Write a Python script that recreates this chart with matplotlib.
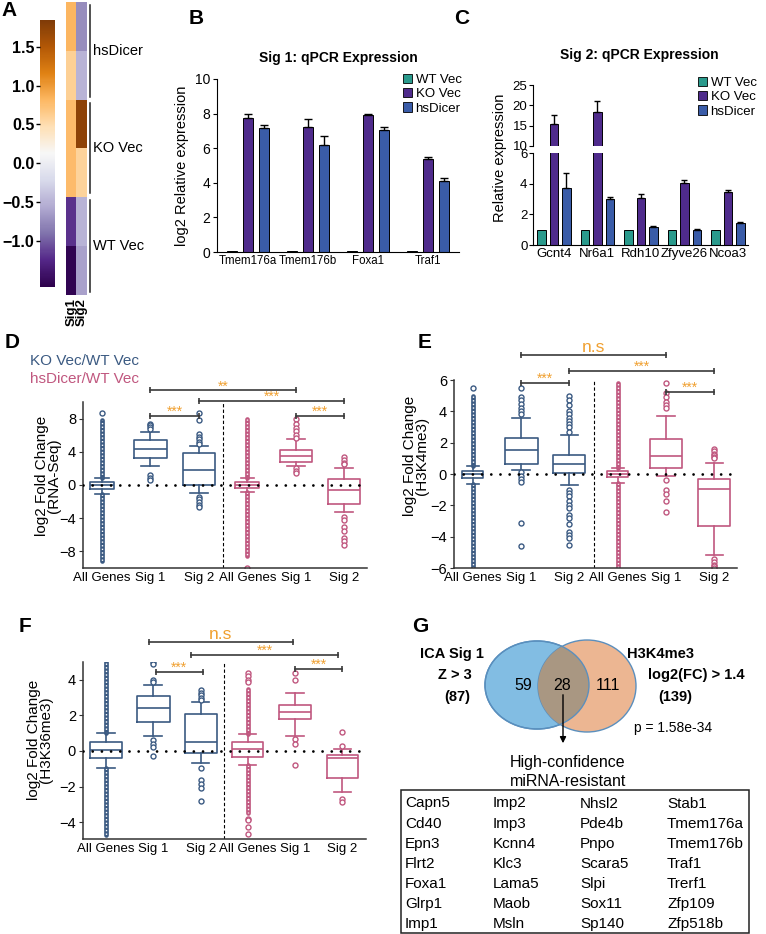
import matplotlib
matplotlib.use('Agg')
import matplotlib.pyplot as plt
import numpy as np
from matplotlib.patches import Ellipse, Rectangle, Patch

plt.rcParams['font.family'] = ['Liberation Sans', 'DejaVu Sans']

W, H = 766, 934
fig = plt.figure(figsize=(W / 100, H / 100), dpi=100)
fig.patch.set_facecolor('white')


def px(x0, y0, x1, y1):
    return [x0 / W, 1 - y1 / H, (x1 - x0) / W, (y1 - y0) / H]

# ---------------- data ----------------
# Panel A heatmap
heat_cols = ['Sig1', 'Sig2']
heat_groups = ['hsDicer', 'KO Vec', 'WT Vec']
heat_sig1 = [0.82, 0.60, 0.78, 0.78, -1.20, -1.55]
heat_sig2 = [-0.75, -0.50, 1.75, 0.57, -0.50, -0.62]
cbar_ticks = [-1.0, -0.5, 0.0, 0.5, 1.0, 1.5]

# Panel B
genes_b = ['Tmem176a', 'Tmem176b', 'Foxa1', 'Traf1']
b_wt = [0.06, 0.06, 0.06, 0.06]
b_ko = [7.75, 7.25, 7.90, 5.35]
b_ko_err = [0.25, 0.45, 0.10, 0.12]
b_hs = [7.15, 6.20, 7.05, 4.10]
b_hs_err = [0.20, 0.50, 0.15, 0.15]

# Panel C
genes_c = ['Gcnt4', 'Nr6a1', 'Rdh10', 'Zfyve26', 'Ncoa3']
c_wt = [1.0, 1.0, 1.0, 1.0, 1.0]
c_ko = [15.5, 18.3, 3.05, 4.05, 3.45]
c_ko_err = [2.0, 2.8, 0.30, 0.20, 0.12]
c_hs = [3.70, 3.00, 1.20, 1.00, 1.45]
c_hs_err = [1.00, 0.12, 0.05, 0.03, 0.05]

series_names = ['WT Vec', 'KO Vec', 'hsDicer']

# Box panels
box_labels = ['All Genes', 'Sig 1', 'Sig 2', 'All Genes', 'Sig 1', 'Sig 2']

d_med = [-0.05, 4.3, 1.8, 0.0, 3.5, -0.6]
d_q1 = [-0.5, 3.3, 0.0, -0.4, 2.8, -2.3]
d_q3 = [0.4, 5.4, 3.9, 0.4, 4.2, 0.7]
d_wlo = [-1.1, 2.3, -1.0, -0.9, 2.3, -3.3]
d_whi = [0.9, 6.4, 4.7, 0.9, 5.5, 2.1]
d_fliers = [[8.7],
            [7.4, 7.2, 7.0, 6.8, 1.2, 0.9, 0.6],
            [8.7, 7.8, 6.1, 5.8, 5.5, 5.2, 4.9, -1.4, -1.7, -2.0, -2.4, -2.7],
            [-10.0],
            [7.9, 7.4, 6.9, 6.5, 6.0, 5.7, 2.0, 1.7, 1.5],
            [3.4, 3.0, 2.7, 2.5, -3.9, -4.2, -5.0, -5.5, -6.4, -6.8, -7.2]]
d_band_hi = [7.8, np.nan, np.nan, 7.9, np.nan, np.nan]
d_band_lo = [-9.2, np.nan, np.nan, -8.6, np.nan, np.nan]
d_brackets = [(1, 4, 11.4, '**'), (2, 5, 10.1, '***'), (1, 2, 8.3, '***'), (4, 5, 8.3, '***')]

e_med = [0.0, 1.55, 0.65, 0.0, 1.15, -0.95]
e_q1 = [-0.25, 0.65, 0.05, -0.2, 0.4, -3.3]
e_q3 = [0.17, 2.3, 1.2, 0.17, 2.25, -0.3]
e_wlo = [-0.65, 0.28, -0.7, -0.55, -0.15, -5.15]
e_whi = [0.5, 3.55, 2.5, 0.4, 3.7, 0.7]
e_fliers = [[5.5],
            [5.5, 4.9, 4.7, 4.5, 4.2, 4.0, 3.8, 0.1, -0.1, -0.3, -0.5, -3.1, -4.6],
            [4.95, 4.7, 4.4, 4.0, 3.8, 3.6, 3.4, 3.2, 3.0, 2.7, -1.0, -1.2, -1.4, -1.7,
             -2.0, -2.2, -2.6, -2.8, -3.2, -3.7, -3.9, -4.1, -4.5],
            [],
            [5.8, 5.2, 4.9, 4.6, 4.4, 4.2, -0.4, -1.0, -1.3, -1.7, -2.4],
            [1.6, 1.5, 1.3, 1.2, 1.1, 1.0, -5.4, -5.6, -5.8, -5.9, -6.0]]
e_band_hi = [5.0, np.nan, np.nan, 5.8, np.nan, np.nan]
e_band_lo = [-6.0, np.nan, np.nan, -6.0, np.nan, np.nan]
e_brackets = [(1, 4, 7.6, 'n.s'), (2, 5, 6.6, '***'), (1, 2, 5.8, '***'), (4, 5, 5.25, '***')]

f_med = [0.05, 2.4, 0.52, 0.1, 2.2, -0.4]
f_q1 = [-0.4, 1.65, -0.1, -0.35, 1.78, -1.52]
f_q3 = [0.52, 3.08, 2.1, 0.48, 2.6, -0.22]
f_wlo = [-0.97, 0.84, -0.65, -0.8, 0.86, -2.33]
f_whi = [1.03, 3.7, 2.73, 0.98, 3.27, 0.1]
f_fliers = [[],
            [5.0, 4.9, 4.0, 3.9, 0.6, 0.4, 0.2, -0.3],
            [3.4, 3.27, 3.14, 3.0, 2.86, -0.97, -1.63, -1.87, -2.06, -2.8],
            [4.4, 4.2, 4.0, 3.9, -3.8, -3.9, -4.3, -4.65],
            [4.4, 4.0, 0.65, 0.4, -0.8],
            [1.05, 0.28, -2.7, -2.85]]
f_band_hi = [5.0, np.nan, np.nan, 3.5, np.nan, np.nan]
f_band_lo = [-4.7, np.nan, np.nan, -3.5, np.nan, np.nan]
f_brackets = [(0.9, 3.95, 6.1, 'n.s'), (1.8, 4.9, 5.4, '***'), (1.05, 2.05, 4.45, '***'), (4.0, 5.0, 4.6, '***')]

# Panel G
venn_left_only, venn_both, venn_right_only = 59, 28, 111
venn_left_total, venn_right_total = 87, 139
venn_p = '1.58e-34'
table_genes = [['Capn5', 'Cd40', 'Epn3', 'Flrt2', 'Foxa1', 'Glrp1', 'Imp1'],
               ['Imp2', 'Imp3', 'Kcnn4', 'Klc3', 'Lama5', 'Maob', 'Msln'],
               ['Nhsl2', 'Pde4b', 'Pnpo', 'Scara5', 'Slpi', 'Sox11', 'Sp140'],
               ['Stab1', 'Tmem176a', 'Tmem176b', 'Traf1', 'Trerf1', 'Zfp109', 'Zfp518b']]

# ---------------- styles ----------------
C_WT, C_KO, C_HS = '#2a9a8c', '#4f2b8c', '#3a5ca8'
BLUE, PINK = '#3b5a82', '#c0577f'
ORANGE = '#f0a030'
SPINE = '#333333'

# overlay axes in pixel coordinates
ov = fig.add_axes([0, 0, 1, 1], zorder=20)
ov.set_xlim(0, W)
ov.set_ylim(H, 0)
ov.axis('off')
ov.patch.set_alpha(0)

# ---------------- Panel A ----------------
axh = fig.add_axes(px(66, 2, 87, 295))
im = axh.imshow(np.array([heat_sig1, heat_sig2]).T, cmap='PuOr_r', vmin=-1.6, vmax=1.85,
                aspect='auto', interpolation='nearest')
axh.set_xticks([0, 1], heat_cols, rotation=90, fontweight='bold', fontsize=9.5)
axh.set_yticks([])
axh.tick_params(length=0, pad=2)
for s in axh.spines.values():
    s.set_visible(False)

cax = fig.add_axes(px(40, 20, 55, 287))
cb = fig.colorbar(im, cax=cax, ticks=cbar_ticks)
cb.outline.set_visible(False)
cax.yaxis.set_ticks_position('left')
cax.tick_params(labelsize=11.5, length=3, width=1, pad=1)
for t in cax.get_yticklabels():
    t.set_fontweight('bold')

for name, (y0, y1) in zip(heat_groups, [(5, 97), (103, 193), (200, 292)]):
    ov.plot([90, 90], [y0, y1], color='#222222', lw=1.1)
    ov.text(93, (y0 + y1) / 2, name, fontsize=10.5, va='center', ha='left')

# ---------------- Panel B ----------------
axb = fig.add_axes(px(217, 79, 459, 252))
xb = np.arange(len(genes_b))
bw, off = 0.175, 0.267
for vals, errs, col, dx in [(b_wt, None, C_WT, -off), (b_ko, b_ko_err, C_KO, 0), (b_hs, b_hs_err, C_HS, off)]:
    axb.bar(xb + dx, vals, width=bw, color=col, edgecolor='black', linewidth=0.7, zorder=2)
    if errs is not None:
        axb.errorbar(xb + dx, vals, yerr=[np.zeros(len(errs)), errs], fmt='none',
                     ecolor='black', elinewidth=1, capsize=3, capthick=1, zorder=3)
axb.set_xlim(-0.52, 3.52)
axb.set_ylim(0, 10)
axb.set_yticks([0, 2, 4, 6, 8, 10])
axb.set_xticks(xb, genes_b)
axb.tick_params(axis='y', labelsize=10, length=3, pad=2)
axb.tick_params(axis='x', labelsize=8.3, length=0, pad=2)
for s in ['top', 'right']:
    axb.spines[s].set_visible(False)
for s in ['left', 'bottom']:
    axb.spines[s].set_color('black')
axb.set_ylabel('log2 Relative expression', fontsize=10.5, labelpad=4)
ov.text(338, 58, 'Sig 1: qPCR Expression', fontsize=10, fontweight='bold', ha='center', va='center')
handles = [Patch(facecolor=c, edgecolor='black', linewidth=0.6) for c in (C_WT, C_KO, C_HS)]
fig.legend(handles, series_names, loc='upper left', bbox_to_anchor=(403 / W, 1 - 74 / H),
           frameon=False, fontsize=9.5, handlelength=0.7, handleheight=0.7,
           handletextpad=0.25, labelspacing=0.15, borderaxespad=0, borderpad=0)

# ---------------- Panel C ----------------
axc_hi = fig.add_axes(px(533, 85, 748, 146))
axc_lo = fig.add_axes(px(533, 153, 748, 245))
xc = np.arange(len(genes_c))
cw, coff = 0.195, 0.287
for ax in (axc_hi, axc_lo):
    for vals, errs, col, dx in [(c_wt, None, C_WT, -coff), (c_ko, c_ko_err, C_KO, 0), (c_hs, c_hs_err, C_HS, coff)]:
        ax.bar(xc + dx, vals, width=cw, color=col, edgecolor='black', linewidth=0.7, zorder=2)
        if errs is not None:
            ax.errorbar(xc + dx, vals, yerr=[np.zeros(len(errs)), errs], fmt='none',
                        ecolor='black', elinewidth=1, capsize=2.5, capthick=1, zorder=3)
    ax.set_xlim(-0.48, 4.46)
    for s in ['top', 'right']:
        ax.spines[s].set_visible(False)
    ax.tick_params(axis='y', labelsize=9.5, length=3, pad=1)
axc_hi.set_ylim(10, 25)
axc_hi.set_yticks([10, 15, 20, 25])
axc_hi.spines['bottom'].set_visible(False)
axc_hi.set_xticks([])
axc_lo.set_ylim(0, 6)
axc_lo.set_yticks([0, 2, 4, 6])
axc_lo.set_xticks(xc, genes_c)
axc_lo.tick_params(axis='x', labelsize=9.5, length=0, pad=2)
ov.text(500, 158, 'Relative expression', fontsize=10.5, rotation=90, ha='center', va='center')
ov.text(639, 55, 'Sig 2: qPCR Expression', fontsize=10, fontweight='bold', ha='center', va='center')
fig.legend(handles, series_names, loc='upper left', bbox_to_anchor=(698 / W, 1 - 77 / H),
           frameon=False, fontsize=9.5, handlelength=0.7, handleheight=0.7,
           handletextpad=0.25, labelspacing=0.15, borderaxespad=0, borderpad=0)


# ---------------- box panels ----------------
def box_panel(rect, med, q1, q3, wlo, whi, fliers, band_lo, band_hi, widths,
              ylim, yticks, xlim, brackets):
    ax = fig.add_axes(px(*rect))
    colors = [BLUE] * 3 + [PINK] * 3
    for i in range(6):
        c = colors[i]
        st = dict(med=med[i], q1=q1[i], q3=q3[i], whislo=wlo[i], whishi=whi[i],
                  fliers=np.array(fliers[i], dtype=float))
        lp = dict(color=c, lw=1.2)
        ax.bxp([st], positions=[i], widths=[widths[i]], capwidths=[widths[i] * 0.55],
               boxprops=lp, medianprops=lp, whiskerprops=lp, capprops=lp,
               flierprops=dict(marker='o', markersize=3.6, markerfacecolor='white',
                               markeredgecolor=c, markeredgewidth=1.0, linestyle='none'),
               manage_ticks=False, zorder=2)
        if not np.isnan(band_hi[i]):
            for a, b in [(whi[i], band_hi[i]), (wlo[i], band_lo[i])]:
                ax.plot([i, i], [a, b], color=c, lw=3.4, solid_capstyle='round', zorder=1.5)
                ax.plot([i, i], [a, b], color='white', lw=1.0, ls=(0, (1, 1.6)), zorder=1.6)
    ax.axhline(0, color='black', lw=2.0, ls=(0, (0.01, 3.3)), dash_capstyle='round', zorder=4)
    ax.axvline(2.5, color='black', lw=0.8, ls=(0, (3, 2)), zorder=1)
    ax.set_xlim(*xlim)
    ax.set_ylim(*ylim)
    ax.set_yticks(yticks)
    ax.set_xticks(range(6), box_labels)
    ax.tick_params(axis='y', labelsize=10.5, length=3, pad=2, color=SPINE)
    ax.tick_params(axis='x', labelsize=9.5, length=0, pad=3)
    for s in ['top', 'right']:
        ax.spines[s].set_visible(False)
    for s in ['left', 'bottom']:
        ax.spines[s].set_color(SPINE)
        ax.spines[s].set_linewidth(1.1)
    for x1, x2, y, lab in brackets:
        ax.plot([x1, x2], [y, y], color='#3a3a3a', lw=1.2, marker='|', markersize=5,
                markeredgewidth=1.2, clip_on=False, zorder=5)
        if lab == 'n.s':
            ax.text((x1 + x2) / 2, y, lab, color=ORANGE, fontsize=12.5, ha='center',
                    va='bottom', clip_on=False)
        else:
            ax.text((x1 + x2) / 2, y, lab, color=ORANGE, fontsize=10, ha='center',
                    va='baseline', clip_on=False)
    return ax


box_panel((83, 402, 367, 568), d_med, d_q1, d_q3, d_wlo, d_whi, d_fliers, d_band_lo, d_band_hi,
          [0.5, 0.68, 0.66, 0.5, 0.66, 0.66], (-10, 10), [-8, -4, 0, 4, 8], (-0.39, 5.47), d_brackets)
box_panel((454, 380, 737, 568), e_med, e_q1, e_q3, e_wlo, e_whi, e_fliers, e_band_lo, e_band_hi,
          [0.44, 0.68, 0.66, 0.44, 0.68, 0.66], (-6, 6), [-6, -4, -2, 0, 2, 4, 6], (-0.39, 5.47), e_brackets)
box_panel((83, 662, 366, 839), f_med, f_q1, f_q3, f_wlo, f_whi, f_fliers, f_band_lo, f_band_hi,
          [0.68, 0.7, 0.68, 0.66, 0.68, 0.66], (-4.95, 5.0), [-4, -2, 0, 2, 4], (-0.49, 5.5), f_brackets)

ov.text(30, 361, 'KO Vec/WT Vec', color=BLUE, fontsize=11, va='center', ha='left')
ov.text(30, 379, 'hsDicer/WT Vec', color=PINK, fontsize=11, va='center', ha='left')
ov.text(48, 476, 'log2 Fold Change\n(RNA-Seq)', fontsize=11, rotation=90, ha='center',
        va='center', linespacing=0.75)
ov.text(416, 456, 'log2 Fold Change\n(H3K4me3)', fontsize=11, rotation=90, ha='center',
        va='center', linespacing=0.75)
ov.text(40, 740, 'log2 Fold Change\n(H3K36me3)', fontsize=11, rotation=90, ha='center',
        va='center', linespacing=0.75)

# ---------------- Panel G ----------------
axv = fig.add_axes(px(470, 630, 650, 740))
axv.set_xlim(470, 650)
axv.set_ylim(740, 630)
axv.axis('off')
left = Ellipse((537, 685), 104, 88, facecolor='#82bde3', edgecolor='#4f8dbf', lw=1.0, zorder=1)
right = Ellipse((587, 686), 98, 92, facecolor='#ecb692', edgecolor='#5b8fbd', lw=1.0, zorder=2)
axv.add_patch(left)
axv.add_patch(right)
lens = Ellipse((587, 686), 98, 92, facecolor='#a99782', edgecolor='none', zorder=3)
axv.add_patch(lens)
lens.set_clip_path(left)
edge_l = Ellipse((537, 685), 104, 88, facecolor='none', edgecolor='#5b8fbd', lw=1.0, zorder=4)
axv.add_patch(edge_l)
axv.text(523, 685, str(venn_left_only), fontsize=11.5, ha='center', va='center', zorder=5)
axv.text(562, 685, str(venn_both), fontsize=11.5, ha='center', va='center', zorder=5)
axv.text(608, 685, str(venn_right_only), fontsize=11.5, ha='center', va='center', zorder=5)

ov.text(452, 654, 'ICA Sig 1', fontsize=10.5, fontweight='bold', ha='center', va='center')
ov.text(455, 675, 'Z > 3', fontsize=10.5, fontweight='bold', ha='center', va='center')
ov.text(457, 697, f'({venn_left_total})', fontsize=10.5, fontweight='bold', ha='center', va='center')
ov.text(661, 654, 'H3K4me3', fontsize=10.5, fontweight='bold', ha='center', va='center')
ov.text(696, 675, 'log2(FC) > 1.4', fontsize=10.5, fontweight='bold', ha='center', va='center')
ov.text(675, 697, f'({venn_right_total})', fontsize=10.5, fontweight='bold', ha='center', va='center')
ov.text(673, 728, f'p = {venn_p}', fontsize=10, ha='center', va='center')
ov.annotate('', xy=(563, 746), xytext=(563, 692),
            arrowprops=dict(arrowstyle='-|>', color='black', lw=1.0, mutation_scale=9))
ov.text(568, 763, 'High-confidence', fontsize=11.5, ha='center', va='center')
ov.text(568, 782, 'miRNA-resistant', fontsize=11.5, ha='center', va='center')

ov.add_patch(Rectangle((401, 790), 348, 143, facecolor='none', edgecolor='#222222', lw=1.1))
col_x = [405, 493, 580, 667]
for ci, col in enumerate(table_genes):
    for ri, g in enumerate(col):
        ov.text(col_x[ci], 807.5 + 20.1 * ri, g, fontsize=11, ha='left', va='baseline')

# panel letters
for letter, (x, y) in zip('ABCDEFG', [(9, 11), (196, 18), (462, 18), (12, 342), (425, 342),
                                       (25, 626), (420, 627)]):
    ov.text(x, y, letter, fontsize=15, fontweight='bold', ha='center', va='center')

fig.savefig('out.png', dpi=100, facecolor='white')
